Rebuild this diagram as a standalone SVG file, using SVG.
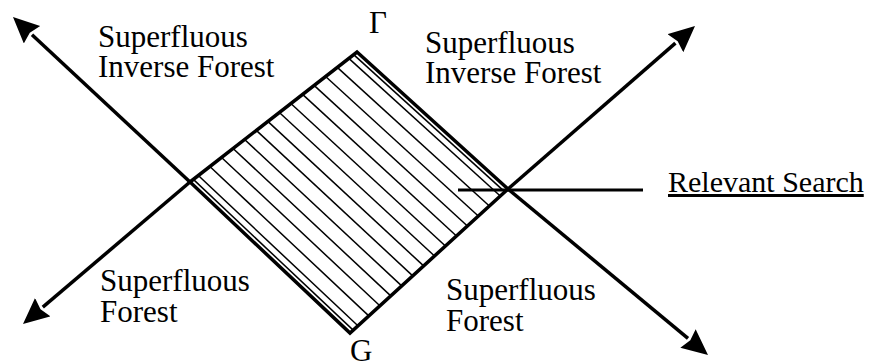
<svg xmlns="http://www.w3.org/2000/svg" width="875" height="364" viewBox="0 0 875 364">
<style>
.t{font-family:"Liberation Serif","Times New Roman",serif;font-size:31px;fill:#000}
.edge{fill:none;stroke:#000;stroke-width:3.5;stroke-linejoin:miter}
.hatch{stroke:#000;stroke-width:1.5;fill:none}
.arr{stroke:#000;stroke-width:3.5;fill:none}
</style>
<defs>
<marker id="ah" markerUnits="userSpaceOnUse" markerWidth="28" markerHeight="26" refX="0" refY="12" orient="auto" viewBox="0 0 28 26">
<path d="M0,0 L26,12 L0,24 L3,12 Z" fill="#000"/>
</marker>
</defs>
<rect width="875" height="364" fill="#fff"/>
<g id="relevant-region">
<g class="hatch">
<line x1="193.34" y1="179.4" x2="353.16" y2="330.12"/>
<line x1="198.35" y1="175.5" x2="357.9" y2="325.8"/>
<line x1="209.87" y1="166.53" x2="368.8" y2="315.86"/>
<line x1="221.56" y1="157.43" x2="379.86" y2="305.78"/>
<line x1="233.09" y1="148.46" x2="390.76" y2="295.85"/>
<line x1="244.61" y1="139.49" x2="401.67" y2="285.91"/>
<line x1="256.3" y1="130.39" x2="412.73" y2="275.83"/>
<line x1="267.82" y1="121.42" x2="423.63" y2="265.9"/>
<line x1="279.35" y1="112.45" x2="434.53" y2="255.96"/>
<line x1="290.87" y1="103.48" x2="445.43" y2="246.02"/>
<line x1="302.56" y1="94.38" x2="456.49" y2="235.94"/>
<line x1="314.08" y1="85.41" x2="467.39" y2="226.01"/>
<line x1="325.6" y1="76.44" x2="478.3" y2="216.07"/>
<line x1="337.29" y1="67.34" x2="489.36" y2="205.99"/>
<line x1="348.82" y1="58.37" x2="500.26" y2="196.06"/>
<line x1="353.66" y1="54.6" x2="504.84" y2="191.88"/>
</g>
<polygon class="edge" points="357,52 508,189 350,333 190,182"/>
</g>
<g id="connectors">
<line class="arr" x1="190" y1="182" x2="32" y2="34.7" marker-end="url(#ah)"/>
<line class="arr" x1="190" y1="182" x2="42.8" y2="307.2" marker-end="url(#ah)"/>
<line class="arr" x1="508" y1="189" x2="675.4" y2="43.1" marker-end="url(#ah)"/>
<line class="arr" x1="508" y1="189" x2="688" y2="338.4" marker-end="url(#ah)"/>
<line class="arr" x1="458" y1="190" x2="643" y2="190" style="stroke-width:3"/>
</g>
<g id="label-gamma"><text class="t" x="369" y="33">Γ</text></g>
<g id="label-g"><text class="t" x="350" y="361">G</text></g>
<g id="sif-left"><text class="t" x="98" y="47">Superfluous</text><text class="t" x="98" y="77">Inverse Forest</text></g>
<g id="sif-right"><text class="t" x="425" y="53">Superfluous</text><text class="t" x="425" y="83">Inverse Forest</text></g>
<g id="sf-left"><text class="t" x="100" y="291">Superfluous</text><text class="t" x="100" y="322">Forest</text></g>
<g id="sf-right"><text class="t" x="446" y="300">Superfluous</text><text class="t" x="446" y="331">Forest</text></g>
<g id="relevant-search"><text class="t" x="668" y="192" text-decoration="underline" style="font-size:30px">Relevant Search</text></g>
</svg>
